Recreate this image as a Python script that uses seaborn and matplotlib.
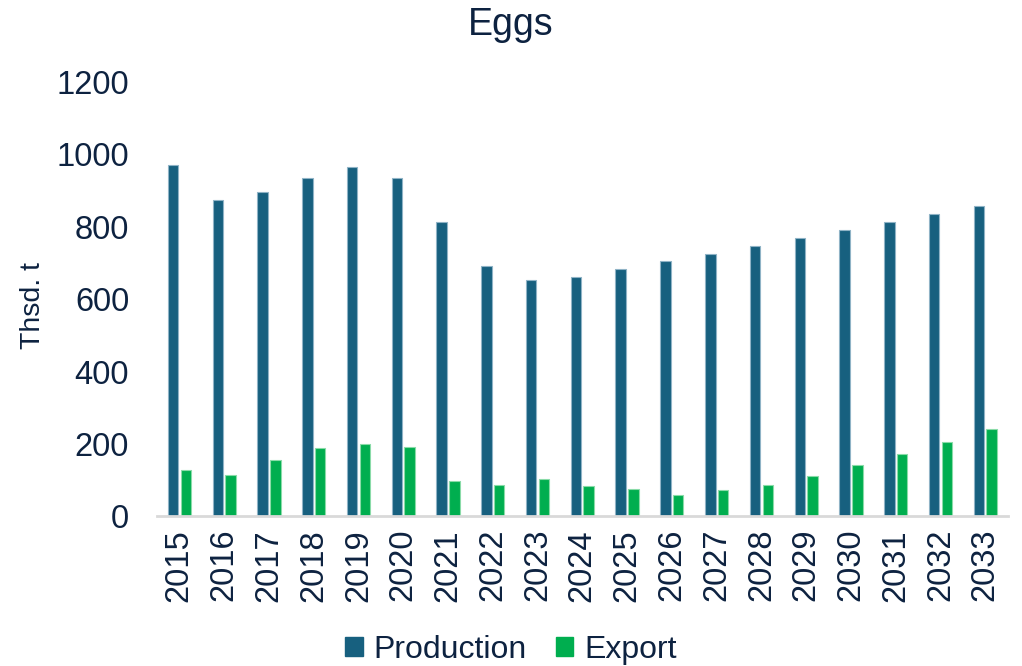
import matplotlib
matplotlib.use("Agg")
import matplotlib.pyplot as plt
import seaborn as sns
import pandas as pd
from matplotlib.patches import Patch

years = [str(y) for y in range(2015, 2034)]
production = [970, 873, 896, 933, 964, 935, 814, 690, 653, 660, 682, 704, 725, 747, 769, 790, 812, 834, 856]
export = [127, 114, 156, 188, 200, 193, 98, 86, 103, 83, 75, 60, 73, 87, 112, 141, 172, 205, 241]
series_names = ["Production", "Export"]
colors = ["#17607F", "#00AE4F"]
edge_colors = ["#8FB3C6", "#8ADBA8"]
yticks = [0, 200, 400, 600, 800, 1000, 1200]

sns.set_theme(style="white")
plt.rcParams['font.family'] = ['Liberation Sans', 'DejaVu Sans']
text_color = "#0D2240"

df = pd.DataFrame({
    "Year": years * 2,
    "Value": production + export,
    "Series": [series_names[0]] * len(years) + [series_names[1]] * len(years),
})

fig = plt.figure(figsize=(10.22, 6.66), dpi=100)
ax = fig.add_axes([0.1536, 0.2245, 0.8324, 0.6528])

sns.barplot(data=df, x="Year", y="Value", hue="Series", palette=colors,
            width=0.57, gap=0.18, ax=ax, legend=False, saturation=1)

for cont, ec in zip(ax.containers, edge_colors):
    for p in cont:
        p.set_edgecolor(ec)
        p.set_linewidth(0.8)

ax.set_ylim(0, 1200)
ax.set_yticks(yticks)
ax.set_yticklabels([str(v) for v in yticks], fontsize=23.5, color=text_color)
ax.set_xticks(range(len(years)))
ax.set_xticklabels(years, rotation=90, fontsize=23.5, color=text_color)
ax.tick_params(axis="both", length=0)
ax.tick_params(axis="x", pad=9)
ax.tick_params(axis="y", pad=20)
ax.set_xlabel("")
ax.set_ylabel("Thsd. t", fontsize=20.5, color=text_color)
ax.yaxis.set_label_coords(-0.13, 0.485)
for s in ["top", "right", "left"]:
    ax.spines[s].set_visible(False)
ax.spines["bottom"].set_color("#D9D9D9")
ax.spines["bottom"].set_linewidth(2)

fig.suptitle("Eggs", fontsize=27, color=text_color, y=0.99)

handles = [Patch(facecolor=c, edgecolor=c) for c in colors]
fig.legend(handles, series_names, loc="center", bbox_to_anchor=(0.5, 0.024),
           ncol=2, frameon=False, fontsize=23, handlelength=0.55, handleheight=0.55,
           handletextpad=0.35, columnspacing=0.9, labelcolor=text_color)

fig.savefig("out.png", dpi=100)
